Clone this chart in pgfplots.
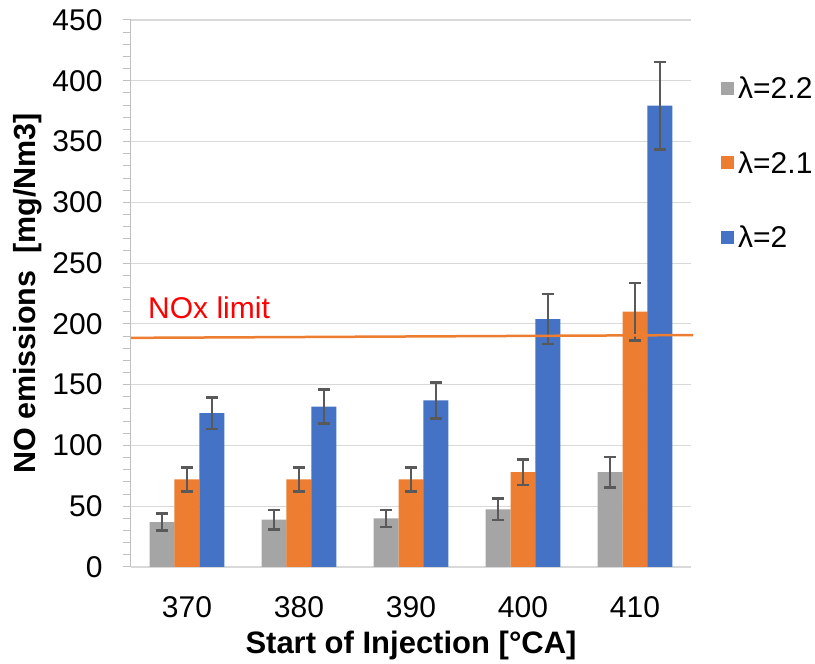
\documentclass[border=0pt]{standalone}
\usepackage{pgfplots}
\usepackage{pgfplotstable}
\pgfplotsset{compat=1.18}
\usepackage{fontspec}
\setmainfont{Liberation Sans}
\definecolor{cgray}{HTML}{A5A5A5}
\definecolor{corange}{HTML}{ED7D31}
\definecolor{cblue}{HTML}{4472C4}
\definecolor{cerr}{HTML}{595959}
\definecolor{cgrid}{HTML}{D9D9D9}
\definecolor{caxis}{HTML}{BFBFBF}
\newcommand\bigf{\fontsize{30}{36}\selectfont}
\pgfplotstableread{
x g ge o oe b be
0 37 7 72 10 126.5 13
1 39 8 72 10 132 14
2 40 7 72 10 137 15
3 47.5 9 78 10.5 204 20.5
4 78 12.5 210 23.5 379.5 36
}\datatable
\pgfplotsset{
  errstyle/.style={error bars/.cd, y dir=both, y explicit,
    error bar style={cerr, line width=2.6pt},
    error mark options={cerr, line width=2.6pt, mark size=6pt, rotate=90}},
}
\begin{document}
\begin{tikzpicture}[x=1pt,y=1pt]
\useasboundingbox (0,0) rectangle (815,664);
\begin{axis}[
  at={(131pt,97pt)}, anchor=south west,
  scale only axis, width=560pt, height=547pt,
  xmin=-0.5, xmax=4.5, ymin=0, ymax=450,
  xtick={0,...,4}, xticklabels={370,380,390,400,410},
  ytick={0,50,...,450}, minor y tick num=4,
  ymajorgrids, grid style={cgrid, line width=1.2pt},
  axis x line*=bottom, axis y line*=left,
  x axis line style={cgrid, line width=2pt, -},
  y axis line style={caxis, line width=1pt, -},
  xtick style={draw=none},
  ytick style={caxis, line width=1pt},
  tick align=outside,
  major tick length=8pt, minor tick length=8pt,
  /pgf/number format/assume math mode=true,
  ticklabel style={font=\bigf, text=black},
  xticklabel style={yshift=-18pt},
  yticklabel style={xshift=-17pt},
  xlabel={Start of Injection [°CA]},
  ylabel={NO emissions\ \ [mg/Nm3]},
  xlabel style={font=\bfseries\fontsize{31}{36}\selectfont, at={(axis description cs:0.5,-0.144)}, anchor=center},
  ylabel style={font=\bfseries\fontsize{30.5}{36}\selectfont, at={(axis description cs:-0.184,0.5)}, anchor=center},
  legend style={at={(1.0536,0.896)}, anchor=north west, draw=none, fill=none,
    font=\bigf, row sep=51pt, nodes={inner sep=0pt}, inner sep=0pt,
    /tikz/every odd column/.append style={column sep=4pt}},
  legend cell align=left,
  legend image code/.code={\fill[#1] (0pt,-6.5pt) rectangle (13pt,6.5pt);},
  clip=false,
]
\addplot[ybar, bar width=25pt, bar shift=0pt, fill=cgray, draw=none, errstyle]
  table[x expr=\thisrow{x}-0.2232, y=g, y error=ge] {\datatable};
\addlegendentry{λ=2.2}
\addplot[ybar, bar width=25pt, bar shift=0pt, fill=corange, draw=none, errstyle]
  table[x=x, y=o, y error=oe] {\datatable};
\addlegendentry{λ=2.1}
\addplot[ybar, bar width=25pt, bar shift=0pt, fill=cblue, draw=none, errstyle]
  table[x expr=\thisrow{x}+0.2232, y=b, y error=be] {\datatable};
\addlegendentry{λ=2}
\addplot[corange, line width=2.5pt, no markers, forget plot]
  coordinates {(-0.5,188.5) (4.52,190.8)};
\node[anchor=base west, text=red, font=\bigf, inner sep=0pt] at (axis cs:-0.348,204.8) {NOx limit};
\end{axis}
\end{tikzpicture}
\end{document}
